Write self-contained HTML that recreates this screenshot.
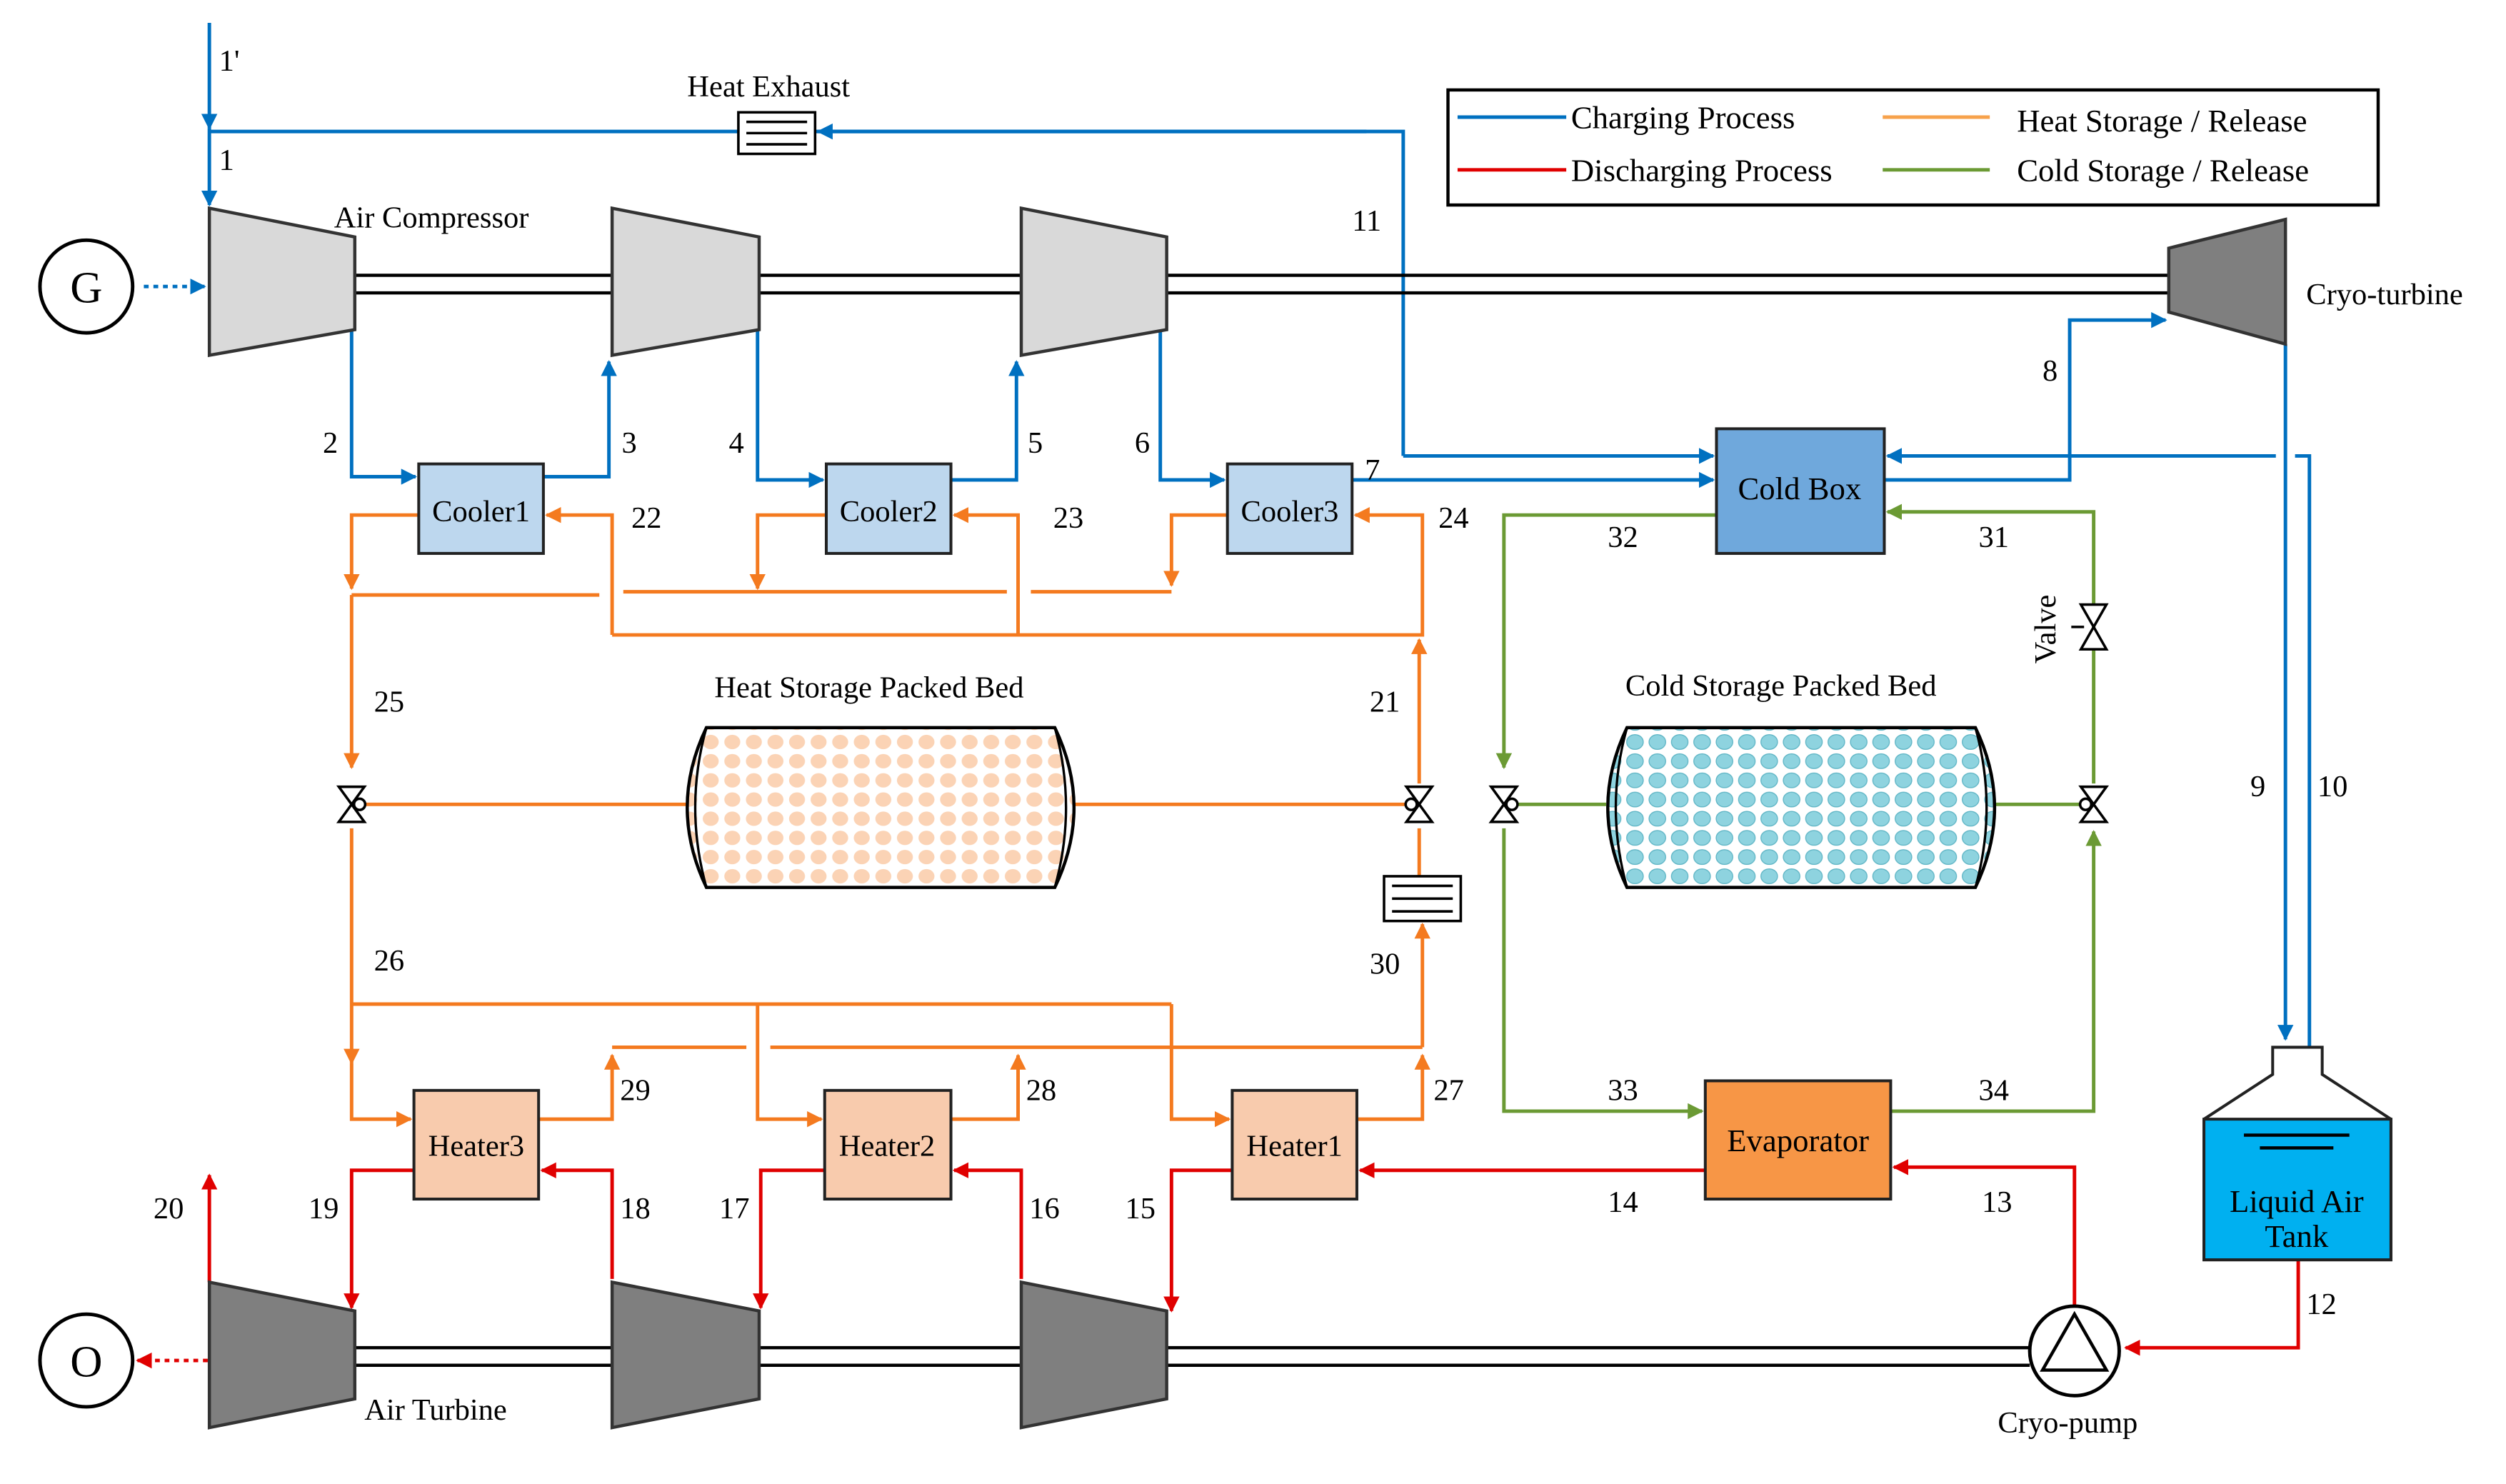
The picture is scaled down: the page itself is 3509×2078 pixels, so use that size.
<!DOCTYPE html>
<html><head><meta charset="utf-8"><style>html,body{margin:0;padding:0;background:#fff}svg{display:block}svg text{font-family:"Liberation Serif","DejaVu Serif",serif}</style></head><body>
<svg width="3509" height="2078" viewBox="0 0 1568 928" xmlns="http://www.w3.org/2000/svg" style="font-family:'Liberation Serif',serif" font-size="19">
<defs>
<marker id="ab" markerWidth="10" markerHeight="10" refX="9" refY="5" orient="auto" markerUnits="userSpaceOnUse"><path d="M0,0 L10,5 L0,10 z" fill="#0070C0"/></marker>
<marker id="ar" markerWidth="10" markerHeight="10" refX="9" refY="5" orient="auto" markerUnits="userSpaceOnUse"><path d="M0,0 L10,5 L0,10 z" fill="#E00000"/></marker>
<marker id="ao" markerWidth="10" markerHeight="10" refX="9" refY="5" orient="auto" markerUnits="userSpaceOnUse"><path d="M0,0 L10,5 L0,10 z" fill="#F47A1F"/></marker>
<marker id="ag" markerWidth="10" markerHeight="10" refX="9" refY="5" orient="auto" markerUnits="userSpaceOnUse"><path d="M0,0 L10,5 L0,10 z" fill="#6B9A34"/></marker>
<pattern id="ph" x="438" y="458" width="13.5" height="12" patternUnits="userSpaceOnUse"><ellipse cx="6.7" cy="6" rx="5" ry="4.5" fill="#FBD3B5"/></pattern>
<pattern id="pc" x="1016" y="458" width="14" height="12" patternUnits="userSpaceOnUse"><ellipse cx="7" cy="6" rx="5.2" ry="4.6" fill="#8ED3DF" stroke="#5FB5C5" stroke-width="0.6"/></pattern>
</defs>
<g fill="none" stroke-width="2.2">
<g stroke="#0070C0">
<path d="M131,14 V80" marker-end="url(#ab)"/>
<path d="M131,80 V128" marker-end="url(#ab)"/>
<path d="M878,285 V82 H131"/>
<path d="M855,82 H512" marker-end="url(#ab)"/>
<path d="M878,285 H1072" marker-end="url(#ab)"/>
<path d="M220,206 V298 H260" marker-end="url(#ab)"/>
<path d="M340,298 H381 V226" marker-end="url(#ab)"/>
<path d="M474,206 V300 H515" marker-end="url(#ab)"/>
<path d="M595,300 H636 V226" marker-end="url(#ab)"/>
<path d="M726,206 V300 H766" marker-end="url(#ab)"/>
<path d="M846,300 H1072" marker-end="url(#ab)"/>
<path d="M1179,300 H1295 V200 H1355" marker-end="url(#ab)"/>
<path d="M1430,215 V650" marker-end="url(#ab)"/>
<path d="M1445,655 V285 H1436"/>
<path d="M1424,285 H1181" marker-end="url(#ab)"/>
<path d="M90,179 H128" stroke-dasharray="3,3" marker-end="url(#ab)"/>
</g>
<g stroke="#E00000">
<path d="M1438,788 V843 H1330" marker-end="url(#ar)"/>
<path d="M1298,817 V730 H1185" marker-end="url(#ar)"/>
<path d="M1067,732 H851" marker-end="url(#ar)"/>
<path d="M771,732 H733 V820" marker-end="url(#ar)"/>
<path d="M639,800 V732 H597" marker-end="url(#ar)"/>
<path d="M516,732 H476 V818" marker-end="url(#ar)"/>
<path d="M383,800 V732 H339" marker-end="url(#ar)"/>
<path d="M259,732 H220 V818" marker-end="url(#ar)"/>
<path d="M131,802 V735" marker-end="url(#ar)"/>
<path d="M130,851 H86" stroke-dasharray="3,3" marker-end="url(#ar)"/>
</g>
<g stroke="#F47A1F">
<path d="M383,397 H890 V322 H848" marker-end="url(#ao)"/>
<path d="M383,397 V322 H342" marker-end="url(#ao)"/>
<path d="M637,397 V322 H597" marker-end="url(#ao)"/>
<path d="M262,322 H220 V368" marker-end="url(#ao)"/>
<path d="M517,322 H474 V368" marker-end="url(#ao)"/>
<path d="M768,322 H733 V366" marker-end="url(#ao)"/>
<path d="M220,372 H375 M390,370 H630 M645,370 H733"/>
<path d="M220,372 V480" marker-end="url(#ao)"/>
<path d="M228,503 H430 M672,503 H880"/>
<path d="M888,490 V400" marker-end="url(#ao)"/>
<path d="M888,518 V548"/>
<path d="M220,518 V665" marker-end="url(#ao)"/>
<path d="M220,628 H733 M474,628 V700 H514" marker-end="url(#ao)"/>
<path d="M733,628 V700 H769" marker-end="url(#ao)"/>
<path d="M220,665 V700 H257" marker-end="url(#ao)"/>
<path d="M337,700 H383 V660" marker-end="url(#ao)"/>
<path d="M595,700 H637 V660" marker-end="url(#ao)"/>
<path d="M849,700 H890 V660" marker-end="url(#ao)"/>
<path d="M383,655 H467 M482,655 H890"/>
<path d="M890,655 V578" marker-end="url(#ao)"/>
</g>
<g stroke="#6B9A34">
<path d="M1074,322 H941 V480" marker-end="url(#ag)"/>
<path d="M949,503 H1005 M1248,503 H1302"/>
<path d="M1310,490 V320 H1181" marker-end="url(#ag)"/>
<path d="M941,518 V695 H1065" marker-end="url(#ag)"/>
<path d="M1183,695 H1310 V520" marker-end="url(#ag)"/>
</g>
</g>
<g stroke="#000" stroke-width="2" fill="none">
<path d="M222,172 H1357 M222,183 H1357"/>
<path d="M222,843 H1270 M222,854 H1270"/>
</g>
<g stroke="#333" stroke-width="2" fill="#D9D9D9">
<path d="M131,130 L222,148 L222,206 L131,222 Z"/>
<path d="M383,130 L475,148 L475,206 L383,222 Z"/>
<path d="M639,130 L730,148 L730,206 L639,222 Z"/>
</g>
<g stroke="#333" stroke-width="2" fill="#7F7F7F">
<path d="M1357,155 L1430,137 L1430,215 L1357,195 Z"/>
<path d="M131,802 L222,820 L222,875 L131,893 Z"/>
<path d="M383,802 L475,820 L475,875 L383,893 Z"/>
<path d="M639,802 L730,820 L730,875 L639,893 Z"/>
</g>
<g stroke="#000" stroke-width="2.2" fill="#fff">
<circle cx="54" cy="179" r="29"/><circle cx="54" cy="851" r="29"/>
<circle cx="1298" cy="845" r="28"/>
</g>
<path d="M1298,822 L1318,857 L1278,857 Z" fill="none" stroke="#000" stroke-width="2"/>
<text x="54" y="189" font-size="28" text-anchor="middle">G</text>
<text x="54" y="861" font-size="28" text-anchor="middle">O</text>
<g stroke="#222" stroke-width="1.8">
<rect x="262" y="290" width="78" height="56" fill="#BDD7EE"/>
<rect x="517" y="290" width="78" height="56" fill="#BDD7EE"/>
<rect x="768" y="290" width="78" height="56" fill="#BDD7EE"/>
<rect x="1074" y="268" width="105" height="78" fill="#6FA8DC"/>
<rect x="259" y="682" width="78" height="68" fill="#F8CBAD"/>
<rect x="516" y="682" width="79" height="68" fill="#F8CBAD"/>
<rect x="771" y="682" width="78" height="68" fill="#F8CBAD"/>
<rect x="1067" y="676" width="116" height="74" fill="#F79646"/>
<path d="M1422,655 H1453 V672 L1496,700 V788 H1379 V700 L1422,672 Z" fill="#fff"/>
<path d="M1379,700 H1496 V788 H1379 Z" fill="#00B0F0"/>
</g>
<path d="M1404,710 H1470 M1414,718 H1460" stroke="#000" stroke-width="2"/>
<g stroke="#000" stroke-width="2">
<path d="M442,455 H660 Q684,505 660,555 H442 Q418,505 442,455 Z" fill="url(#ph)"/>
<path d="M1018,455 H1236 Q1260,505 1236,555 H1018 Q994,505 1018,455 Z" fill="url(#pc)"/>
<path d="M442,455 Q428,505 442,555 M660,455 Q674,505 660,555 M1018,455 Q1004,505 1018,555 M1236,455 Q1250,505 1236,555" fill="none" stroke-width="1.5"/>
</g>
<g stroke="#000" stroke-width="1.6" fill="#fff">
<rect x="462" y="70" width="48" height="26"/><path d="M467,76 H505 M467,83 H505 M467,90 H505" />
<rect x="866" y="548" width="48" height="28"/><path d="M871,554 H909 M871,562 H909 M871,570 H909"/>
</g>
<g stroke="#000" stroke-width="1.6" fill="#fff">
<path d="M212,492 L228,492 L220,503 Z M212,514 L228,514 L220,503 Z"/><circle cx="225" cy="503" r="3.5"/>
<path d="M880,492 L896,492 L888,503 Z M880,514 L896,514 L888,503 Z"/><circle cx="883" cy="503" r="3.5"/>
<path d="M933,492 L949,492 L941,503 Z M933,514 L949,514 L941,503 Z"/><circle cx="946" cy="503" r="3.5"/>
<path d="M1302,492 L1318,492 L1310,503 Z M1302,514 L1318,514 L1310,503 Z"/><circle cx="1305" cy="503" r="3.5"/>
<path d="M1302,378 L1318,378 L1310,392 Z M1302,406 L1318,406 L1310,392 Z"/><path d="M1296,392 H1304" fill="none"/>
</g>
<rect x="906" y="56" width="582" height="72" fill="none" stroke="#000" stroke-width="2"/>
<path d="M912,73 H980" stroke="#0070C0" stroke-width="2.2"/>
<path d="M912,106 H980" stroke="#E00000" stroke-width="2.2"/>
<path d="M1178,73 H1245" stroke="#F7A24B" stroke-width="2.2"/>
<path d="M1178,106 H1245" stroke="#6B9A34" stroke-width="2.2"/>
<g font-size="20">
<text x="983" y="80">Charging Process</text>
<text x="983" y="113">Discharging Process</text>
<text x="1262" y="82">Heat Storage / Release</text>
<text x="1262" y="113">Cold Storage / Release</text>
</g>
<g font-size="19">
<text x="430" y="60">Heat Exhaust</text>
<text x="209" y="142">Air Compressor</text>
<text x="1443" y="190">Cryo-turbine</text>
<text x="228" y="888">Air Turbine</text>
<text x="1250" y="896">Cryo-pump</text>
<text x="447" y="436">Heat Storage Packed Bed</text>
<text x="1017" y="435">Cold Storage Packed Bed</text>
<text x="1286" y="415" transform="rotate(-90 1286 415)">Valve</text>
<text x="301" y="326" text-anchor="middle">Cooler1</text>
<text x="556" y="326" text-anchor="middle">Cooler2</text>
<text x="807" y="326" text-anchor="middle">Cooler3</text>
<text x="1126" y="312" text-anchor="middle" font-size="20">Cold Box</text>
<text x="298" y="723" text-anchor="middle">Heater3</text>
<text x="555" y="723" text-anchor="middle">Heater2</text>
<text x="810" y="723" text-anchor="middle">Heater1</text>
<text x="1125" y="720" text-anchor="middle" font-size="20">Evaporator</text>
<text x="1437" y="758" text-anchor="middle" font-size="20">Liquid Air</text>
<text x="1437" y="780" text-anchor="middle" font-size="20">Tank</text>
<text x="137" y="44">1'</text><text x="137" y="106">1</text>
<text x="202" y="283">2</text><text x="389" y="283">3</text>
<text x="456" y="283">4</text><text x="643" y="283">5</text>
<text x="710" y="283">6</text><text x="854" y="300">7</text>
<text x="1278" y="238">8</text><text x="1408" y="498">9</text>
<text x="1450" y="498">10</text><text x="846" y="144">11</text>
<text x="1443" y="822">12</text><text x="1240" y="758">13</text>
<text x="1006" y="758">14</text><text x="704" y="762">15</text>
<text x="644" y="762">16</text><text x="450" y="762">17</text>
<text x="388" y="762">18</text><text x="193" y="762">19</text>
<text x="96" y="762">20</text><text x="857" y="445">21</text>
<text x="395" y="330">22</text><text x="659" y="330">23</text>
<text x="900" y="330">24</text><text x="234" y="445">25</text>
<text x="234" y="607">26</text><text x="897" y="688">27</text>
<text x="642" y="688">28</text><text x="388" y="688">29</text>
<text x="857" y="609">30</text><text x="1238" y="342">31</text>
<text x="1006" y="342">32</text><text x="1006" y="688">33</text>
<text x="1238" y="688">34</text>
</g>
</svg>
</body></html>
